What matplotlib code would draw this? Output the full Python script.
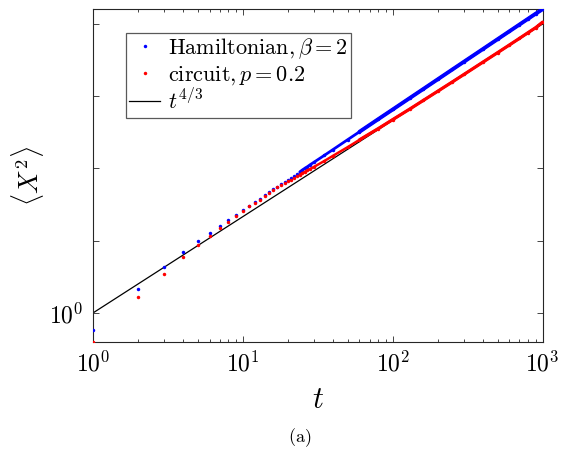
import matplotlib
matplotlib.use("Agg")
import matplotlib.pyplot as plt
import numpy as np

plt.rcParams['mathtext.fontset'] = 'cm'
plt.rcParams['font.family'] = 'DejaVu Serif'

# time steps (every step up to 28, sparser afterwards)
t_pts = [1, 2, 3, 4, 5, 6, 7, 8, 9, 10, 11, 12, 13, 14, 15, 16, 17, 18, 19, 20,
         21, 22, 23, 24, 25, 26, 27, 28, 30, 35, 40, 50, 60, 80, 100, 130, 160,
         200, 250, 300, 400, 500, 600, 700, 800, 900, 1000]

# Hamiltonian, beta = 2
ham_vals = [0.575, 2.15, 4.37, 6.89, 9.78, 12.8, 16.0, 19.3, 22.7, 26.6, 30.2,
            34.3, 38.1, 42.3, 46.6, 51.2, 55.8, 60.5, 65.2, 70.0,
            74.7, 79.5, 84.5, 89.8, 95.5, 101, 106, 112, 123, 152, 183, 250,
            322, 481, 655, 944, 1259, 1718, 2344, 3020, 4500, 6140, 7910, 9800,
            11800, 13900, 16000]

# circuit, p = 0.2
circ_vals = [0.40, 1.68, 3.42, 5.87, 8.61, 11.7, 15.0, 18.3, 22.0, 26.0, 29.8,
             33.6, 37.2, 41.2, 45.7, 50.3, 54.6, 58.9, 62.5, 66.1,
             70.0, 74.0, 78.0, 82.0, 85.9, 90.0, 94.0, 98.0, 106, 127, 150, 197,
             249, 356, 475, 665, 875, 1175, 1578, 2014, 2965, 4000, 5117, 6310,
             7590, 8910, 10600]

# reference power law t^(4/3), end points
ref_t = [1, 1000]
ref_vals = [1, 10000]

fig = plt.figure(figsize=(5.7, 4.5), dpi=100)
ax = fig.add_axes([0.163, 0.24, 0.789, 0.74])

t = np.array(t_pts)
ham = np.array(ham_vals)
circ = np.array(circ_vals)
dense = t >= 24
late = t >= 60

ref_line, = ax.plot(ref_t, ref_vals, color='black', lw=0.9, zorder=2)
# dense region looks like a thick band of merged dots
ax.plot(t[dense], ham[dense], color='blue', lw=2.0, zorder=3,
        solid_capstyle='round')
ax.plot(t[late], ham[late], color='blue', lw=2.8, zorder=3,
        solid_capstyle='round')
ax.plot(t[dense], circ[dense], color='red', lw=1.8, zorder=4,
        solid_capstyle='round')
ax.plot(t[late], circ[late], color='red', lw=2.3, zorder=4,
        solid_capstyle='round')
ham_pts, = ax.plot(t, ham, 'o', color='blue', ms=2.5, mew=0, zorder=3)
circ_pts, = ax.plot(t, circ, 'o', color='red', ms=2.5, mew=0, zorder=4)

ax.set_xscale('log')
ax.set_yscale('log')
ax.set_xlim(1, 1000)
ax.set_ylim(0.397, 16100)

ax.set_xticks([1, 10, 100, 1000])
ax.set_xticklabels([r'$10^{0}$', r'$10^{1}$', r'$10^{2}$', r'$10^{3}$'], fontsize=17)
ax.set_yticks([1, 10, 100, 1000, 10000])
ax.set_yticklabels([r'$10^{0}$', '', '', '', ''], fontsize=17)
ax.yaxis.set_minor_locator(matplotlib.ticker.NullLocator())

ax.tick_params(which='both', direction='in', top=True, right=True,
               color='0.15', width=0.6)
ax.tick_params(which='major', length=4, pad=7)
ax.tick_params(which='minor', length=2.5)
for s in ax.spines.values():
    s.set_color('0.15')
    s.set_linewidth(0.8)

ax.set_xlabel(r'$t$', fontsize=22, labelpad=5)
ax.set_ylabel(r'$\langle X^2 \rangle$', fontsize=19, labelpad=2)

leg = ax.legend([ham_pts, circ_pts, ref_line],
                [r'$\mathrm{Hamiltonian}, \beta=2$', r'$\mathrm{circuit}, p=0.2$',
                 r'$t^{4/3}$'],
                loc='upper left', bbox_to_anchor=(0.073, 0.928), borderaxespad=0,
                fontsize=16, fancybox=False, framealpha=1, edgecolor='0.35',
                handlelength=1.4, handletextpad=0.35, labelspacing=0.12,
                borderpad=0.15, markerscale=1.0)
leg.get_frame().set_linewidth(0.9)

fig.text(0.526, 0.027, r'$\mathrm{(a)}$', ha='center', va='center', fontsize=13)

fig.savefig('out.png', dpi=100)
